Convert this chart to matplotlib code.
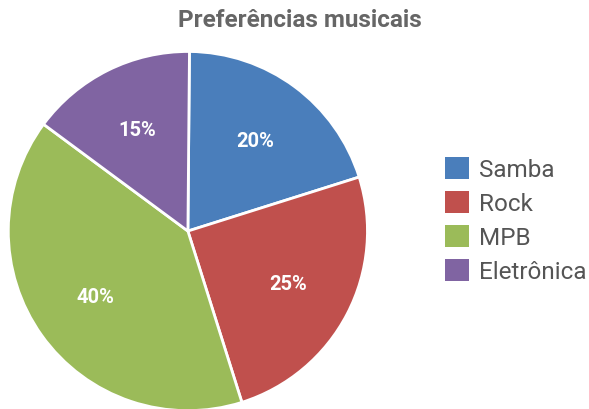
import matplotlib.pyplot as plt
from matplotlib.patches import Patch

plt.rcParams['font.family'] = ['Roboto', 'DejaVu Sans']

generos = ['Samba', 'Rock', 'MPB', 'Eletrônica']
percentuais = [20, 25, 40, 15]
cores = ['#4A7EBB', '#C0504D', '#9BBB59', '#8064A2']

fig = plt.figure(figsize=(5.89, 4.10), dpi=100)
ax = fig.add_axes([0.014, -0.004, 0.61, 0.876])

wedges, texts, autotexts = ax.pie(
    percentuais, colors=cores, startangle=89.5, counterclock=False,
    autopct='%d%%', pctdistance=0.63,
    wedgeprops=dict(edgecolor='white', linewidth=2),
    textprops=dict(color='white', fontsize=14.5, fontweight='bold'))
ax.set_xlim(-1, 1)
ax.set_ylim(-1, 1)
ax.set_aspect('equal')

fig.text(0.509, 0.949, 'Preferências musicais', ha='center', va='center',
         fontsize=17.5, fontweight='bold', color='#666666')

handles = [Patch(facecolor=c, edgecolor='none') for c in cores]
fig.legend(handles, generos, loc='center left', bbox_to_anchor=(0.718, 0.461),
           frameon=False, fontsize=17.5, labelcolor='#555555',
           handlelength=1.0, handleheight=1.0, handletextpad=0.4,
           labelspacing=0.4)

plt.savefig('out.png', dpi=100)
